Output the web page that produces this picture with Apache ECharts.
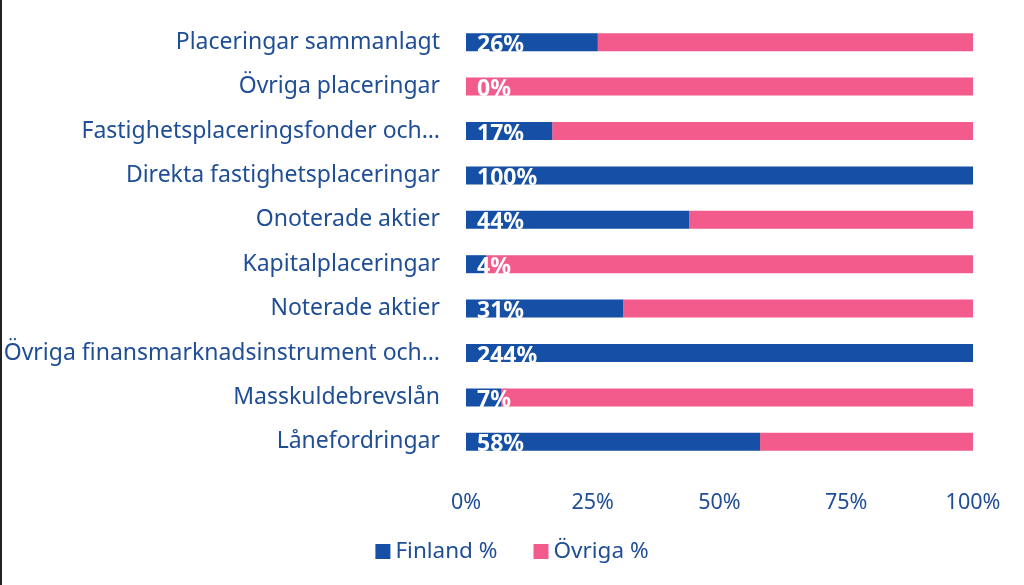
<!DOCTYPE html>
<html><head><meta charset="utf-8">
<script src="https://cdn.jsdelivr.net/npm/echarts@6/dist/echarts.min.js"></script>
<style>html,body{margin:0;padding:0;background:#fff}#c{width:1024px;height:585px}</style>
</head><body><div id="c"></div>
<script>
const categories = ["Placeringar sammanlagt","Övriga placeringar","Fastighetsplaceringsfonder och…","Direkta fastighetsplaceringar","Onoterade aktier","Kapitalplaceringar","Noterade aktier","Övriga finansmarknadsinstrument och…","Masskuldebrevslån","Lånefordringar"];
const finland = [26,0,17,100,44,4,31,244,7,58];
const ovriga = [74,100,83,0,56,96,69,-144,93,42];
const xTicks = ["0%","25%","50%","75%","100%"];
const seriesNames = ["Finland %","Övriga %"];

const BLUE = "#1550a6", PINK = "#f25b8c", TXT = "#1f4e96", FONT = "Noto Sans";
const chart = echarts.init(document.getElementById('c'));
chart.setOption({
  animation:false,
  textStyle:{fontFamily:FONT},
  grid:{left:466,right:51,top:20,bottom:121,containLabel:false},
  legend:{bottom:17,left:'center',itemWidth:15,itemHeight:15,itemGap:36,icon:'rect',
    textStyle:{color:TXT,fontSize:22.5,fontFamily:FONT},data:seriesNames},
  xAxis:{type:'value',min:0,max:100,interval:25,splitLine:{show:false},axisLine:{show:false},axisTick:{show:false},
    axisLabel:{color:TXT,fontSize:21.5,margin:28,fontFamily:FONT,formatter:v=>xTicks[v/25]}},
  yAxis:{type:'category',inverse:true,data:categories,axisLine:{show:false},axisTick:{show:false},
    axisLabel:{color:TXT,fontSize:23,margin:26,fontFamily:FONT}},
  graphic:[{type:'rect',shape:{x:0,y:0,width:2,height:585},style:{fill:'#222'}}],
  series:[
    {name:seriesNames[0],type:'bar',stack:'s',data:finland,barWidth:18,itemStyle:{color:BLUE},z:2,
      label:{show:true,position:'insideLeft',distance:11,offset:[0,3],color:'#fff',fontWeight:'bold',fontSize:23,fontFamily:FONT,formatter:p=>p.value+'%'}},
    {name:seriesNames[1],type:'bar',stack:'s',data:ovriga,barWidth:18,itemStyle:{color:PINK},z:1}
  ]
});
</script></body></html>
